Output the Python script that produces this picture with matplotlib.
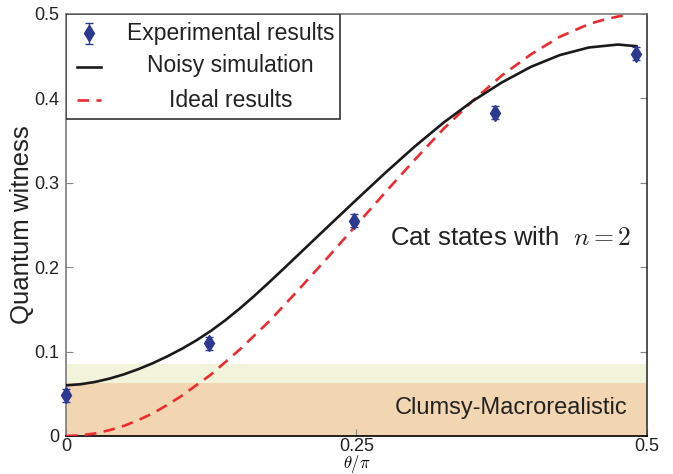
import matplotlib
matplotlib.use("Agg")
import matplotlib.pyplot as plt
from matplotlib.patches import Rectangle

plt.rcParams["font.family"] = ["Liberation Sans", "DejaVu Sans"]
plt.rcParams["mathtext.fontset"] = "cm"

# ---------------------------------------------------------------------------
# data
# ---------------------------------------------------------------------------
exp_x = [0.0, 0.123, 0.248, 0.369, 0.491]
exp_y = [0.048, 0.110, 0.255, 0.383, 0.453]
exp_err = [0.0075, 0.0078, 0.0078, 0.0077, 0.008]

noisy_x = [0.0, 0.0125, 0.025, 0.0375, 0.05, 0.0625, 0.075, 0.0875, 0.1, 0.1125,
           0.125, 0.1375, 0.15, 0.1625, 0.175, 0.1875, 0.2, 0.225, 0.25, 0.275,
           0.3, 0.325, 0.35, 0.375, 0.4, 0.425, 0.45, 0.475, 0.491]
noisy_y = [0.0600, 0.0613, 0.0640, 0.0680, 0.0731, 0.0793, 0.0864, 0.0945, 0.1035,
           0.1135, 0.1248, 0.1375, 0.1515, 0.1665, 0.1823, 0.1984, 0.2148, 0.2475,
           0.2800, 0.3120, 0.3428, 0.3713, 0.3968, 0.4188, 0.4373, 0.4513, 0.4603,
           0.4638, 0.4618]

ideal_x = [0.0, 0.0125, 0.025, 0.0375, 0.05, 0.0625, 0.075, 0.0875, 0.1, 0.125,
           0.15, 0.175, 0.2, 0.225, 0.25, 0.275, 0.3, 0.325, 0.35, 0.375, 0.4,
           0.425, 0.45, 0.4625, 0.475, 0.485]
ideal_y = [0.0, 0.0008, 0.003, 0.0069, 0.012, 0.019, 0.027, 0.037, 0.048, 0.073,
           0.103, 0.136, 0.173, 0.211, 0.250, 0.289, 0.327, 0.364, 0.397, 0.427, 0.452,
           0.473, 0.488, 0.4931, 0.497, 0.499]

clumsy_band = (0.0, 0.063)
margin_band = (0.063, 0.0853)

xticks = [0, 0.25, 0.5]
xtick_labels = ["0", "0.25", "0.5"]
yticks = [0, 0.1, 0.2, 0.3, 0.4, 0.5]
ytick_labels = ["0", "0.1", "0.2", "0.3", "0.4", "0.5"]

legend_labels = ["Experimental results", "Noisy simulation", "Ideal results"]

BLUE = "#2B3990"
RED = "#EE2A2E"
ORANGE = "#F2D6B2"
GREEN = "#F1F4DB"
INK = "#222222"

# ---------------------------------------------------------------------------
fig = plt.figure(figsize=(6.73, 4.74), dpi=100)
ax = fig.add_axes([0.098, 0.0802, 0.8633, 0.8903])

ax.axhspan(*clumsy_band, color=ORANGE, lw=0, zorder=0)
ax.axhspan(*margin_band, color=GREEN, lw=0, zorder=0)

ideal_line, = ax.plot(ideal_x, ideal_y, color=RED, lw=1.9, dashes=(4.4, 2.8), zorder=3)
noisy_line, = ax.plot(noisy_x, noisy_y, color="#1a1a1a", lw=1.9, zorder=3,
                      solid_joinstyle="round")
exp = ax.errorbar(exp_x, exp_y, yerr=exp_err, fmt="d", color=BLUE, ms=8.5,
                  capsize=3, elinewidth=1.0, capthick=1.0, zorder=4, clip_on=False)

ax.set_xlim(0, 0.5)
ax.set_ylim(0, 0.5)
ax.set_xticks(xticks, xtick_labels)
ax.set_yticks(yticks, ytick_labels)
ax.tick_params(direction="in", length=5, width=0.8, color="#888888",
               labelsize=13, right=True, pad=5, labelcolor=INK)
ax.tick_params(axis="x", pad=1.5)

for side in ("left", "top"):
    ax.spines[side].set_color("#7a7a7a")
ax.spines["right"].set_color("#333333")
ax.spines["bottom"].set_color("black")
for s in ax.spines.values():
    s.set_linewidth(1.2)

ax.set_ylabel("Quantum witness", fontsize=18.5, labelpad=0, color=INK)
ax.set_xlabel(r"$\theta/\pi$", fontsize=12, labelpad=-1.2)

ax.text(0.486, 0.2346, r"Cat states with  $n=2$", fontsize=18.5, ha="right",
        va="center", color=INK)
ax.text(0.483, 0.033, "Clumsy-Macrorealistic", fontsize=17, ha="right",
        va="center", color=INK)

# legend: handles from the library, centred labels as separate text
ax.add_patch(Rectangle((0, 0.751), 0.4716, 0.249, transform=ax.transAxes,
                       fc="white", ec="#333333", lw=1.2, zorder=5))
leg = ax.legend([exp, noisy_line, ideal_line], [" ", " ", " "], loc="upper left",
                bbox_to_anchor=(0, 1), borderaxespad=0, borderpad=0.55,
                frameon=False, fontsize=15, handlelength=1.15,
                labelspacing=0.7, handletextpad=0.2)
leg.set_zorder(6)
for lab, yy in zip(legend_labels, [0.953, 0.879, 0.794]):
    ax.text(0.283, yy, lab, transform=ax.transAxes, ha="center", va="center",
            fontsize=16.5, color=INK, zorder=7)

fig.savefig("out.png", dpi=100)
